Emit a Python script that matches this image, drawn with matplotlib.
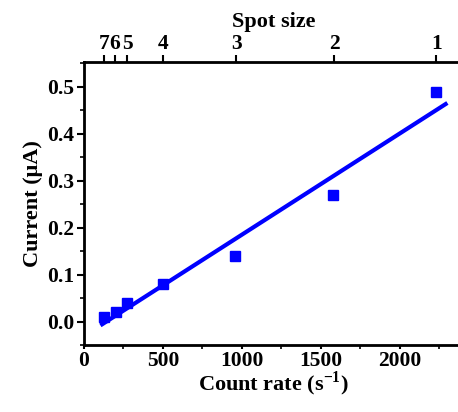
import numpy as np
import matplotlib.pyplot as plt
from matplotlib.ticker import MultipleLocator

# data
count_rate = [125, 205, 270, 500, 955, 1575, 2232]
current = [0.01, 0.02, 0.04, 0.08, 0.14, 0.27, 0.49]
spot_labels = ["7", "6", "5", "4", "3", "2", "1"]
spot_ticks = [125, 195, 275, 500, 965, 1585, 2232]
fit_range = [115, 2290]

plt.rcParams['font.family'] = ['Liberation Serif', 'DejaVu Serif']
plt.rcParams['font.weight'] = 'bold'
plt.rcParams['mathtext.fontset'] = 'custom'
plt.rcParams['mathtext.rm'] = 'Liberation Serif:bold'
plt.rcParams['mathtext.bf'] = 'Liberation Serif:bold'

fig = plt.figure(figsize=(4.58, 4.12), dpi=100)
ax = fig.add_axes([0.1834, 0.1626, 0.8275, 0.687])

slope, intercept = np.polyfit(count_rate, current, 1)
xf = np.array(fit_range)
ax.plot(xf, slope * xf + intercept, color='#0000ff', lw=3)
ax.plot(count_rate, current, 's', color='#0000ff', markersize=7.5, ls='none')

ax.set_xlim(0, 2400)
ax.set_ylim(-0.05, 0.553)
ax.xaxis.set_major_locator(MultipleLocator(500))
ax.xaxis.set_minor_locator(MultipleLocator(250))
ax.yaxis.set_major_locator(MultipleLocator(0.1))
ax.yaxis.set_minor_locator(MultipleLocator(0.05))
ax.yaxis.set_major_formatter(plt.FormatStrFormatter('%.1f'))

for s in ax.spines.values():
    s.set_linewidth(2)
ax.spines['right'].set_visible(False)

ax.tick_params(which='major', direction='out', length=5, width=1.5, labelsize=15.5, pad=2)
ax.tick_params(which='minor', direction='out', length=3, width=1.2)
ax.tick_params(axis='x', which='major', length=3, pad=1)
ax.tick_params(axis='x', top=False)

ax.set_xlabel("Count rate (s$^{\\mathrm{-1}}$)", fontsize=16, fontweight='bold', labelpad=-1)
ax.set_ylabel("Current (\u03bcA)", fontsize=16, fontweight='bold', labelpad=3)

top = ax.twiny()
top.set_xlim(ax.get_xlim())
top.set_xticks(spot_ticks)
top.set_xticklabels(spot_labels)
top.spines['right'].set_visible(False)
top.tick_params(direction='out', length=5, width=1.5, labelsize=15.5, pad=1)
top.set_xlabel("Spot size", fontsize=16, fontweight='bold', labelpad=5)
for lbl in top.get_xticklabels():
    lbl.set_fontweight('bold')

fig.savefig("out.png", dpi=100)
